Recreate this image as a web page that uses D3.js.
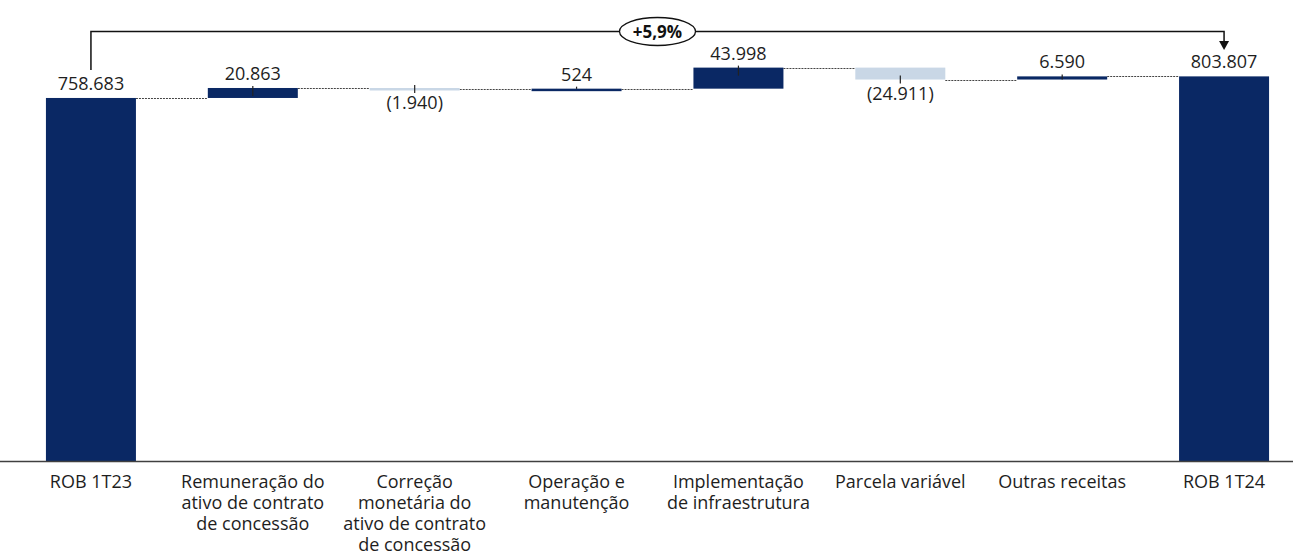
<!DOCTYPE html>
<html lang="pt">
	<head>
		<meta charset="utf-8">
		<title>ROB 1T23 - ROB 1T24</title>
		<script type="text/javascript" src="https://cdn.jsdelivr.net/npm/d3@7"></script>
		<style type="text/css">
			body { margin: 0; background: #fff; }
			svg { display: block; font-family: "Open Sans", sans-serif; }
		</style>
	</head>
	<body>
		<script type="text/javascript">
			//Width and height
			var w = 1293;
			var h = 551;

			//Data
			var categories = [
				["ROB 1T23"],
				["Remuneração do", "ativo de contrato", "de concessão"],
				["Correção", "monetária do", "ativo de contrato", "de concessão"],
				["Operação e", "manutenção"],
				["Implementação", "de infraestrutura"],
				["Parcela variável"],
				["Outras receitas"],
				["ROB 1T24"]
			];
			var values = [758683, 20863, -1940, 524, 43998, -24911, 6590, 803807];
			var isTotal = [true, false, false, false, false, false, false, true];
			var growthLabel = "+5,9%";

			var darkBlue = "#0a2864";
			var lightBlue = "#c9d7e6";
			var textColor = "#1e1e1e";

			var ptBR = d3.formatLocale({ decimal: ",", thousands: ".", grouping: [3], currency: ["R$", ""] });
			var fmt = ptBR.format(",d");
			function label(v) {
				return v < 0 ? "(" + fmt(-v) + ")" : fmt(v);
			}

			//Build waterfall steps
			var steps = [];
			var run = 0;
			values.forEach(function(v, i) {
				var s = {};
				s.i = i;
				s.v = v;
				if (isTotal[i]) {
					s.y0 = 0; s.y1 = v; run = v;
				} else {
					s.y0 = run; s.y1 = run + v; run = run + v;
				}
				s.end = run;
				steps.push(s);
			});

			var svg = d3.select("body")
						.append("svg")
						.attr("width", w)
						.attr("height", h);

			var x = d3.scaleBand()
					  .domain(d3.range(values.length))
					  .range([10, 1305])
					  .paddingInner(0.444)
					  .paddingOuter(0.222);

			var y = d3.scaleLinear()
					  .domain([0, 800000])
					  .range([461, 461 - 800000 * 4.785e-4]);

			//Connectors
			svg.selectAll("line.conn")
			   .data(steps.slice(0, steps.length - 1))
			   .enter()
			   .append("line")
			   .attr("class", "conn")
			   .attr("x1", function(d) { return x(d.i) + x.bandwidth(); })
			   .attr("x2", function(d) { return x(d.i + 1); })
			   .attr("y1", function(d) { return Math.round(y(d.end)) + 0.5; })
			   .attr("y2", function(d) { return Math.round(y(d.end)) + 0.5; })
			   .attr("stroke", "#444")
			   .attr("stroke-width", 1)
			   .attr("stroke-dasharray", "2,1");

			//Bars
			svg.selectAll("rect")
			   .data(steps)
			   .enter()
			   .append("rect")
			   .attr("x", function(d) { return x(d.i); })
			   .attr("y", function(d) { return y(Math.max(d.y0, d.y1)); })
			   .attr("width", x.bandwidth())
			   .attr("height", function(d) { return Math.max(2.5, Math.abs(y(d.y0) - y(d.y1))); })
			   .attr("fill", function(d) { return d.v < 0 ? lightBlue : darkBlue; });

			//Label ticks (variation bars only)
			svg.selectAll("line.tick")
			   .data(steps.filter(function(d) { return !isTotal[d.i]; }))
			   .enter()
			   .append("line")
			   .attr("class", "tick")
			   .attr("x1", function(d) { return x(d.i) + x.bandwidth() / 2; })
			   .attr("x2", function(d) { return x(d.i) + x.bandwidth() / 2; })
			   .attr("y1", function(d) {
					return d.v >= 0 ? y(d.y1) - 2 : y(d.y1) + 4;
			   })
			   .attr("y2", function(d) {
					return d.v >= 0 ? y(d.y1) + Math.min(8, Math.abs(y(d.y0) - y(d.y1))) : y(d.y1) - 4;
			   })
			   .attr("stroke", "#222")
			   .attr("stroke-width", 1.2);

			//Value labels
			svg.selectAll("text.val")
			   .data(steps)
			   .enter()
			   .append("text")
			   .attr("class", "val")
			   .text(function(d) { return label(d.v); })
			   .attr("text-anchor", "middle")
			   .attr("x", function(d) { return x(d.i) + x.bandwidth() / 2; })
			   .attr("y", function(d) {
					if (d.v >= 0) return y(Math.max(d.y0, d.y1)) - 8;
					return y(Math.min(d.y0, d.y1)) + 20;
			   })
			   .attr("font-size", "18px")
			   .attr("fill", textColor);

			//Axis line
			svg.append("line")
			   .attr("x1", 0)
			   .attr("x2", w)
			   .attr("y1", y(0) + 0.5)
			   .attr("y2", y(0) + 0.5)
			   .attr("stroke", "#404040")
			   .attr("stroke-width", 1.5);

			//Category labels
			var cat = svg.selectAll("text.cat")
			   .data(categories)
			   .enter()
			   .append("text")
			   .attr("class", "cat")
			   .attr("text-anchor", "middle")
			   .attr("font-size", "18px")
			   .attr("fill", textColor)
			   .attr("x", function(d, i) { return x(i) + x.bandwidth() / 2; })
			   .attr("y", 488);

			cat.selectAll("tspan")
			   .data(function(d, i) { return d.map(function(t) { return { t: t, i: i }; }); })
			   .enter()
			   .append("tspan")
			   .attr("x", function(d) { return x(d.i) + x.bandwidth() / 2; })
			   .attr("dy", function(d, j) { return j === 0 ? 0 : 21; })
			   .text(function(d) { return d.t; });

			//Growth bracket
			var xa = x(0) + x.bandwidth() / 2;
			var xb = x(values.length - 1) + x.bandwidth() / 2;
			var yTop = 31.5;
			svg.append("path")
			   .attr("d", "M" + xa + "," + (y(values[0]) - 28) + "V" + yTop + "H" + xb + "V" + 42)
			   .attr("fill", "none")
			   .attr("stroke", "#111")
			   .attr("stroke-width", 1.5);
			svg.append("path")
			   .attr("d", "M" + (xb - 5) + ",41L" + (xb + 5) + ",41L" + xb + ",50Z")
			   .attr("fill", "#111");

			var xm = (xa + xb) / 2;
			svg.append("ellipse")
			   .attr("cx", xm)
			   .attr("cy", yTop)
			   .attr("rx", 38)
			   .attr("ry", 14)
			   .attr("fill", "#fff")
			   .attr("stroke", "#111")
			   .attr("stroke-width", 1.3);
			svg.append("text")
			   .attr("x", xm)
			   .attr("y", yTop + 6)
			   .attr("text-anchor", "middle")
			   .attr("font-size", "17px")
			   .attr("font-weight", "bold")
			   .attr("fill", "#111")
			   .text(growthLabel);
		</script>
	</body>
</html>
